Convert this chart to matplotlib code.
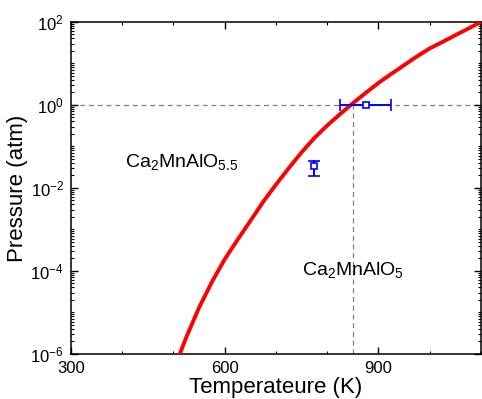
import numpy as np
import matplotlib.pyplot as plt
from matplotlib.ticker import FixedLocator, MultipleLocator, LogLocator, NullFormatter

plt.rcParams['font.family'] = ['Liberation Sans', 'DejaVu Sans']
plt.rcParams['mathtext.fontset'] = 'custom'
plt.rcParams['mathtext.rm'] = 'Liberation Sans'
plt.rcParams['mathtext.it'] = 'Liberation Sans'

# equilibrium curve
temp = [500, 525, 550, 575, 600, 625, 650, 675, 700, 725, 750, 775, 800,
        825, 850, 875, 900, 925, 950, 975, 1000, 1025, 1050, 1075, 1100]
pressure = [4.0e-7, 2.5e-6, 1.3e-5, 5.4e-5, 1.9e-4, 5.6e-4, 1.6e-3, 4.6e-3,
            1.2e-2, 3.0e-2, 7.2e-2, 0.16, 0.32, 0.60, 1.1, 1.95, 3.4, 5.6,
            9.1, 14.8, 23, 33, 48, 69, 100]

# measured points
pt_temp = [875, 775]
pt_pres = [1.0, 0.034]
pt_xerr = [50, 0]
pt_yerr_lo = [0, 0.015]
pt_yerr_hi = [0, 0.011]

fig = plt.figure(figsize=(4.82, 3.99), dpi=100)
ax = fig.add_axes([0.147, 0.113, 0.851, 0.832])

ax.plot(temp, pressure, color='red', lw=2.8, zorder=3)
ax.axhline(1.0, color='gray', ls=(0, (4, 3)), lw=0.9, zorder=1)
ax.plot([850, 850], [1e-6, 1.0], color='gray', ls=(0, (4, 3)), lw=0.9, zorder=1)

ax.errorbar(pt_temp, pt_pres, xerr=pt_xerr, yerr=[pt_yerr_lo, pt_yerr_hi],
            fmt='s', mfc='white', mec='blue', ecolor='blue', ms=5, mew=1.2,
            elinewidth=1.4, capsize=4, capthick=1.4, zorder=4)

ax.text(406, 0.043, r'Ca$_2$MnAlO$_{5.5}$', fontsize=14, va='center')
ax.text(751, 1.05e-4, r'Ca$_2$MnAlO$_5$', fontsize=14, va='center')

ax.set_yscale('log')
ax.set_xlim(300, 1100)
ax.set_ylim(1e-6, 1e2)
ax.xaxis.set_major_locator(FixedLocator([300, 600, 900]))
ax.xaxis.set_minor_locator(MultipleLocator(100))
ax.yaxis.set_major_locator(FixedLocator([1e-6, 1e-4, 1e-2, 1e0, 1e2]))
ax.yaxis.set_minor_locator(LogLocator(base=10, subs=np.arange(1, 10), numticks=20))
ax.yaxis.set_minor_formatter(NullFormatter())
ax.tick_params(which='both', direction='in', top=True, right=True, labelsize=12)
ax.tick_params(which='major', length=5, width=1)
ax.tick_params(which='minor', length=2.5, width=0.8)
ax.tick_params(axis='x', which='major', pad=5)
ax.tick_params(axis='y', which='major', pad=5)

ax.set_xlabel('Temperateure (K)', fontsize=16, labelpad=1)
ax.set_ylabel('Pressure (atm)', fontsize=16, labelpad=2)
for s in ax.spines.values():
    s.set_linewidth(1.1)

fig.savefig('out.png', dpi=100)
